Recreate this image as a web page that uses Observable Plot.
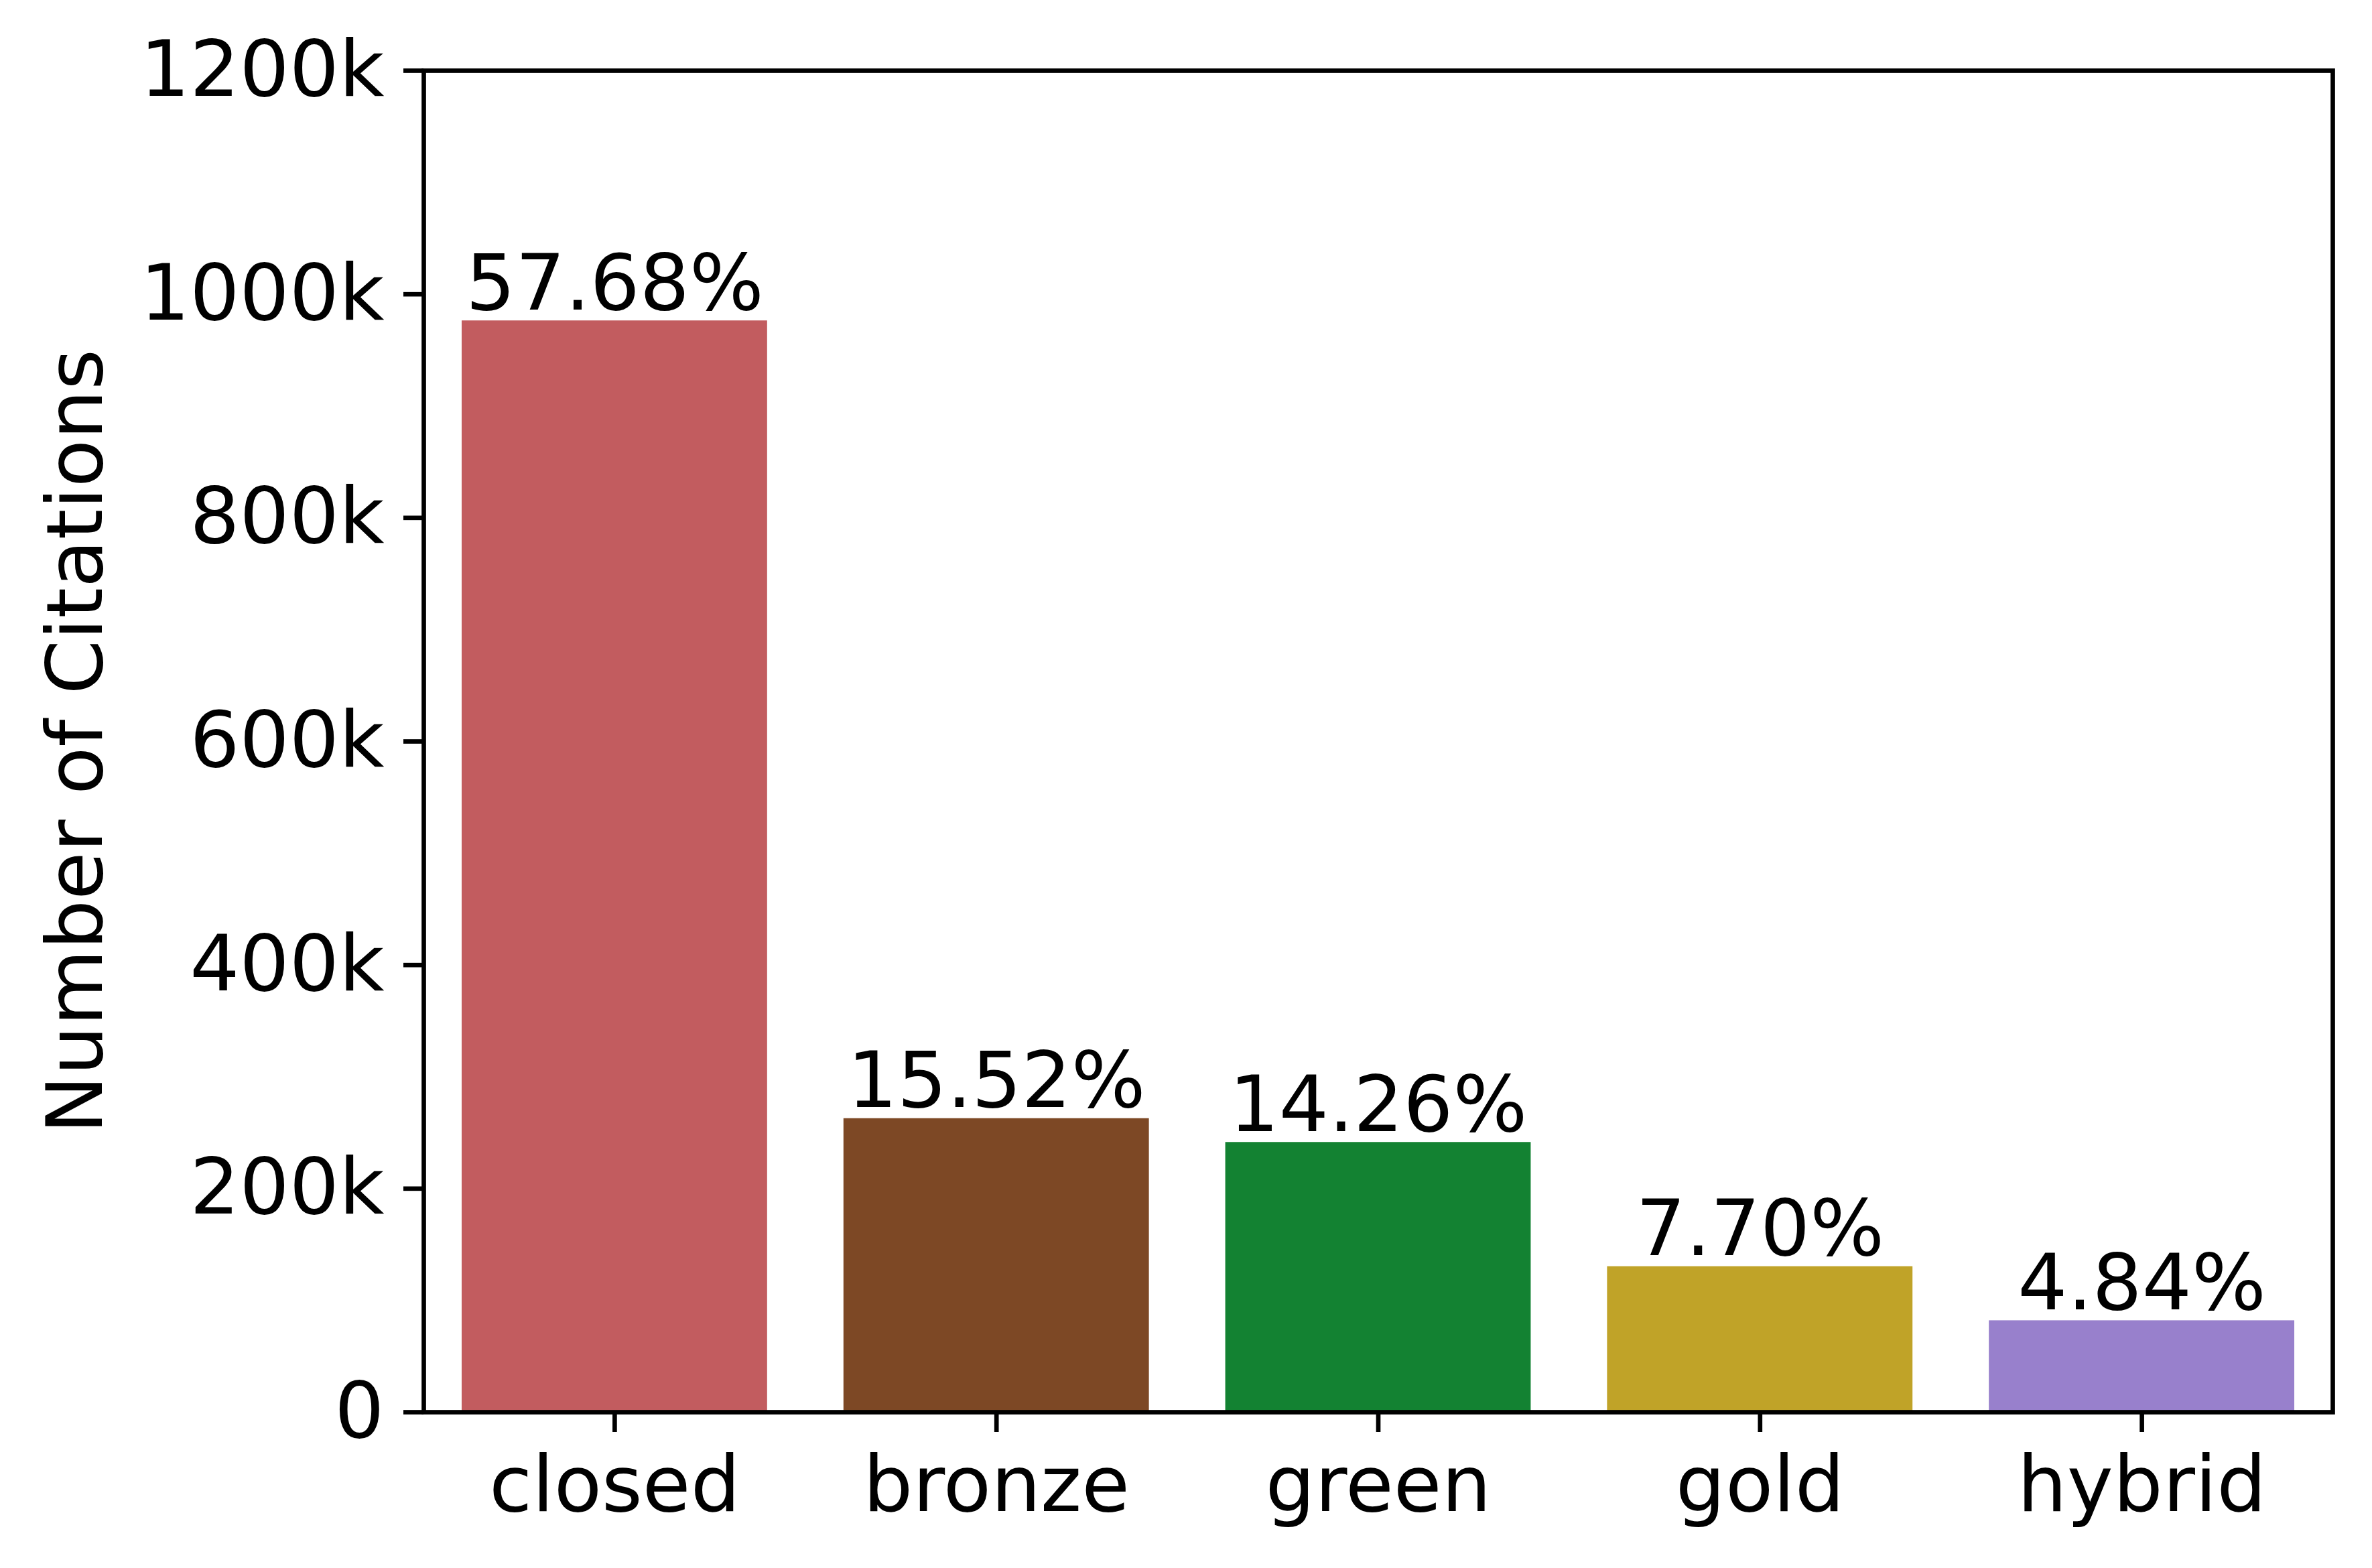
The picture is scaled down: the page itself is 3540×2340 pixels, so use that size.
<!DOCTYPE html>
<html>
<head>
<meta charset="utf-8">
<script src="https://cdn.jsdelivr.net/npm/d3@7"></script>
<script src="https://cdn.jsdelivr.net/npm/@observablehq/plot@0.6"></script>
<style>
  html, body { margin: 0; padding: 0; background: #fff; }
  #chart svg { display: block; }
</style>
</head>
<body>
<div id="chart"></div>
<script>
const categories = ["closed", "bronze", "green", "gold", "hybrid"];
const citations = [976300, 262700, 241400, 130300, 81900];
const percentLabels = ["57.68%", "15.52%", "14.26%", "7.70%", "4.84%"];
const barColors = ["#C25C5F", "#7D4825", "#138232", "#C0A328", "#9880CC"];
const yTicks = [0, 200000, 400000, 600000, 800000, 1000000, 1200000];
const yLabel = "Number of Citations";

const data = categories.map((c, i) => ({category: c, value: citations[i], label: percentLabels[i]}));

const FONT = "DejaVu Sans";
const FS = 116.7;
const LW = 6.67;

const chart = Plot.plot({
  width: 3540,
  height: 2340,
  marginLeft: 632,
  marginRight: 59,
  marginTop: 105,
  marginBottom: 233,
  style: {fontFamily: FONT, background: "#fff", color: "#000"},
  x: {domain: categories, paddingInner: 0.2, paddingOuter: 0.1, round: false, axis: null},
  y: {domain: [0, 1200000], axis: null},
  color: {domain: categories, range: barColors},
  marks: [
    Plot.barY(data, {x: "category", y: "value", fill: "category"}),
    Plot.text(data, {x: "category", y: "value", text: "label", lineAnchor: "bottom", dy: -17,
      fontSize: FS, fill: "#000", fontFamily: FONT}),
    Plot.axisY({ticks: yTicks, tickFormat: d => d === 0 ? "0" : (d / 1000) + "k",
      tickSize: 30, tickPadding: 29, fontSize: FS, strokeWidth: LW, stroke: "#000", fill: "#000", label: null}),
    Plot.axisX({tickSize: 30, tickPadding: 35, fontSize: FS, strokeWidth: LW, stroke: "#000", fill: "#000", label: null}),
    Plot.frame({stroke: "#000", strokeWidth: LW}),
    Plot.text([yLabel], {frameAnchor: "left", rotate: -90, textAnchor: "middle", lineAnchor: "bottom", dx: -481,
      fontSize: FS, fill: "#000", fontFamily: FONT})
  ]
});
document.getElementById("chart").appendChild(chart);
</script>
</body>
</html>
